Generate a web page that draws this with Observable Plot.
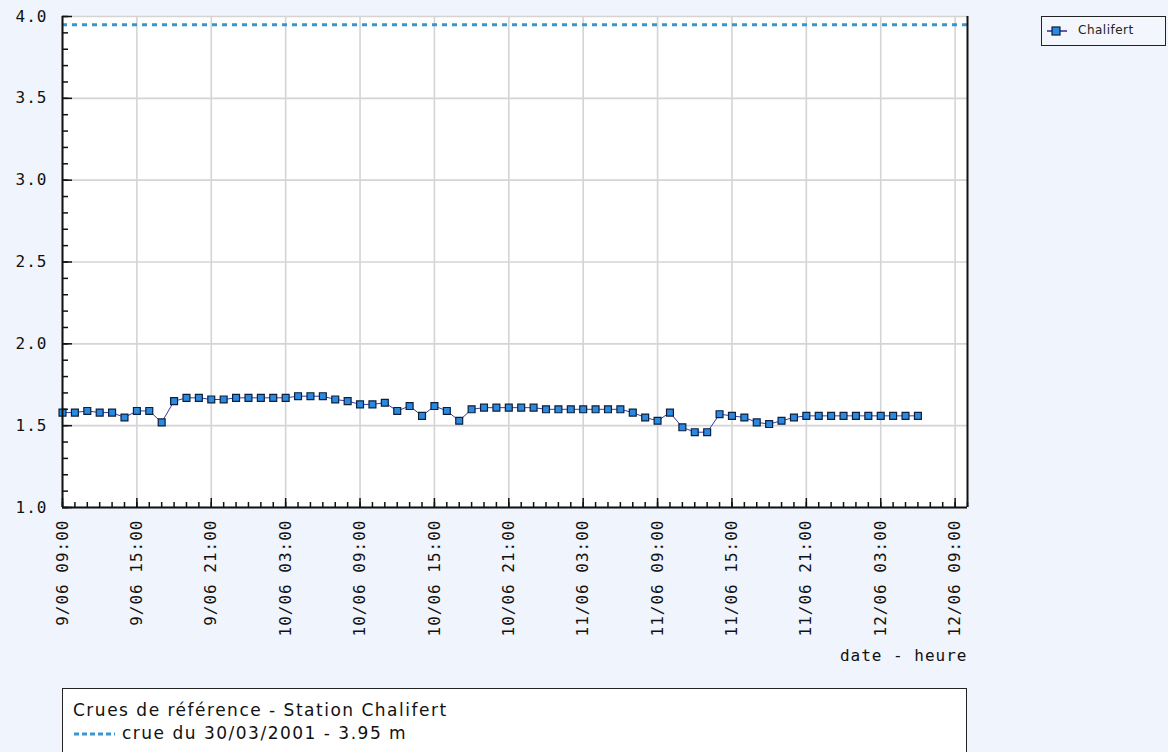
<!DOCTYPE html>
<html>
<head>
<meta charset="utf-8">
<script src="https://cdn.jsdelivr.net/npm/d3@7"></script>
<script src="https://cdn.jsdelivr.net/npm/@observablehq/plot@0.6"></script>
<style>
  html, body { margin: 0; padding: 0; }
  body { width: 1168px; height: 752px; background: #f0f4fc; position: relative; overflow: hidden; }
  #chart { position: absolute; left: 0; top: 0; }
  #chart svg text { letter-spacing: 1px; }
  #legend { position: absolute; left: 1041px; top: 16px; width: 123px; height: 28px; border: 1px solid #222; background: #f3f6fc;
            font-family: "DejaVu Sans", sans-serif; font-size: 12px; color: #222; }
  #legend svg { position: absolute; left: 5px; top: 8px; }
  #legend span { position: absolute; left: 36px; top: 6px; letter-spacing: 0.5px; }
  #refbox { position: absolute; left: 62px; top: 688px; width: 903px; height: 70px; border: 1px solid #222; background: #fff;
            font-family: "DejaVu Sans", Verdana, sans-serif; font-size: 17px; letter-spacing: 1.5px; color: #111; white-space: nowrap; }
  #refbox .l1 { position: absolute; left: 10px; top: 11px; }
  #refbox .l2 { position: absolute; left: 10px; top: 34px; }
  #refbox .l2 svg { vertical-align: middle; margin-right: 7px; }
</style>
</head>
<body>
<div id="chart"></div>
<div id="legend">
  <svg width="20" height="12"><line x1="0" y1="6" x2="20" y2="6" stroke="#2a2a90" stroke-width="1.5"/><rect x="5" y="2" width="8" height="8" fill="#2a8ae0" stroke="#0d1f3c" stroke-width="1.2"/></svg>
  <span id="seriesName"></span>
</div>
<div id="refbox">
  <div class="l1" id="refTitle"></div>
  <div class="l2"><svg width="42" height="6"><line x1="1" y1="3" x2="42" y2="3" stroke="#3a95cf" stroke-width="3" stroke-dasharray="5,3"/></svg><span id="refLabel"></span></div>
</div>
<script>
// ---- data ----
const seriesName = "Chalifert";
const firstTime = "2001-06-09T09:00Z";   // first hourly reading
const waterLevel = [
  1.58, 1.58, 1.59, 1.58, 1.58, 1.55, 1.59, 1.59, 1.52, 1.65,
  1.67, 1.67, 1.66, 1.66, 1.67, 1.67, 1.67, 1.67, 1.67, 1.68,
  1.68, 1.68, 1.66, 1.65, 1.63, 1.63, 1.64, 1.59, 1.62, 1.56,
  1.62, 1.59, 1.53, 1.60, 1.61, 1.61, 1.61, 1.61, 1.61, 1.60,
  1.60, 1.60, 1.60, 1.60, 1.60, 1.60, 1.58, 1.55, 1.53, 1.58,
  1.49, 1.46, 1.46, 1.57, 1.56, 1.55, 1.52, 1.51, 1.53, 1.55,
  1.56, 1.56, 1.56, 1.56, 1.56, 1.56, 1.56, 1.56, 1.56, 1.56
];
const floodLevel = 3.95;
const floodLabel = "crue du 30/03/2001 - 3.95 m";
const refTitle = "Crues de référence - Station Chalifert";
const xDomain = ["2001-06-09T09:00Z", "2001-06-12T10:00Z"];
const xTickTimes = ["2001-06-09T09:00Z", "2001-06-09T15:00Z", "2001-06-09T21:00Z", "2001-06-10T03:00Z",
  "2001-06-10T09:00Z", "2001-06-10T15:00Z", "2001-06-10T21:00Z", "2001-06-11T03:00Z",
  "2001-06-11T09:00Z", "2001-06-11T15:00Z", "2001-06-11T21:00Z", "2001-06-12T03:00Z", "2001-06-12T09:00Z"];
const yDomain = [1, 4];
const yTicks = [1.0, 1.5, 2.0, 2.5, 3.0, 3.5, 4.0];
const xAxisLabel = "date - heure";

// ---- build ----
document.getElementById("seriesName").textContent = seriesName;
document.getElementById("refTitle").textContent = refTitle;
document.getElementById("refLabel").textContent = floodLabel;

const t0 = new Date(firstTime);
const data = waterLevel.map((v, i) => ({time: d3.utcHour.offset(t0, i), level: v}));
const xd = xDomain.map(d => new Date(d));
const xMajor = xTickTimes.map(d => new Date(d));
const xMinor = d3.utcHour.range(xd[0], d3.utcHour.offset(xd[1], 1));
const yMinor = d3.range(10, 41).map(d => d / 10);
const mono = "DejaVu Sans Mono, monospace";

const chart = Plot.plot({
  width: 1168,
  height: 680,
  marginLeft: 62,
  marginRight: 201,
  marginTop: 16,
  marginBottom: 173,
  style: {background: "transparent", fontFamily: mono, fontSize: "16px", color: "#111"},
  x: {type: "utc", domain: xd},
  y: {domain: yDomain},
  marks: [
    Plot.frame({fill: "white", stroke: null}),
    Plot.gridX(xMajor, {stroke: "#d4d4d4", strokeOpacity: 1, strokeWidth: 1.6}),
    Plot.gridY(yTicks, {stroke: "#d4d4d4", strokeOpacity: 1, strokeWidth: 1.6}),
    Plot.ruleY([floodLevel], {stroke: "#3a95cf", strokeWidth: 3, strokeDasharray: "5,5"}),
    Plot.line(data, {x: "time", y: "level", stroke: "#3a3aa0", strokeWidth: 1}),
    Plot.dot(data, {x: "time", y: "level", symbol: "square", r: 3.9, fill: "#2a8ae0", stroke: "#0d1f3c", strokeWidth: 1.2}),
    // axes lines
    Plot.ruleX([xd[0]], {stroke: "#111", strokeWidth: 2}),
    Plot.ruleX([xd[1]], {stroke: "#111", strokeWidth: 2}),
    Plot.ruleY([yDomain[0]], {stroke: "#111", strokeWidth: 2}),
    // y ticks (inward)
    Plot.axisY(yMinor, {tickSize: 6, dx: 6, fill: "none", stroke: "#111", strokeWidth: 1.5}),
    Plot.axisY(yTicks, {tickSize: 10, dx: 10, fill: "none", stroke: "#111", strokeWidth: 1.5}),
    Plot.axisY(yTicks, {tickSize: 0, tickPadding: 15, tickFormat: d3.format(".1f"), label: null, fontFamily: mono, fontSize: 16}),
    // x ticks (inward)
    Plot.axisX(xMinor, {tickSize: 5, dy: -5, fill: "none", stroke: "#111", strokeWidth: 1.5}),
    Plot.axisX(xMajor, {tickSize: 9, dy: -9, fill: "none", stroke: "#111", strokeWidth: 1.5}),
    Plot.axisX(xMajor, {tickSize: 0, tickPadding: 12, tickRotate: -90, tickFormat: d3.utcFormat("%-d/%m %H:%M"), label: null, fontFamily: mono, fontSize: 16}),
    Plot.text([xAxisLabel], {frameAnchor: "bottom-right", dy: 148, textAnchor: "end", lineAnchor: "middle", fontFamily: mono, fontSize: 16, fill: "#111"})
  ]
});
document.getElementById("chart").appendChild(chart);
</script>
</body>
</html>
